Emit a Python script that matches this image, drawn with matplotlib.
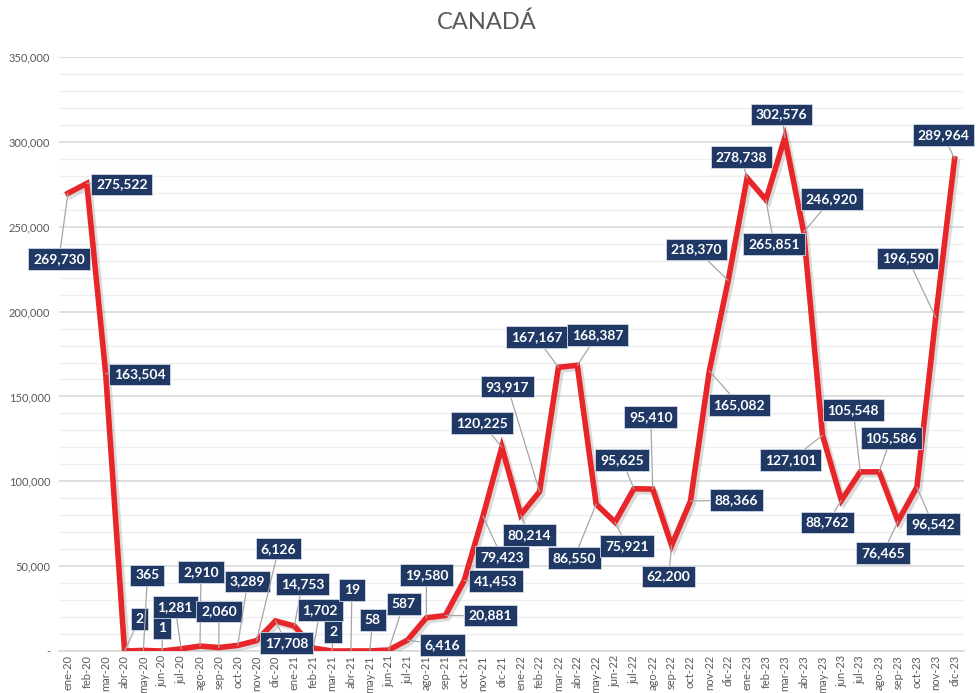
import matplotlib
matplotlib.use("Agg")
from matplotlib import pyplot as plt
from matplotlib import patheffects as pe
from matplotlib.ticker import FuncFormatter, MultipleLocator

# monthly values
months = ["ene", "feb", "mar", "abr", "may", "jun",
          "jul", "ago", "sep", "oct", "nov", "dic"]
years = ["20", "21", "22", "23"]
labels = [m + "-" + y for y in years for m in months]

values = [269730, 275522, 163504, 2, 365, 1, 1281, 2910, 2060, 3289, 6126, 17708,
          14753, 1702, 2, 19, 58, 587, 6416, 19580, 20881, 41453, 79423, 120225,
          80214, 93917, 167167, 168387, 86550, 75921, 95625, 95410, 62200, 88366, 165082, 218370,
          278738, 265851, 302576, 246920, 127101, 88762, 105548, 105586, 76465, 96542, 196590, 289964]

# label box offsets from the point, in pixels (x right, y up)
offsets = [(-9, -66), (35, -1), (34, -1), (15, 32), (4, 75), (0, 23), (-6, 42), (1, 74),
           (0, 36), (10, 64), (22, 92), (11, -22), (8, 42), (7, 38), (1, 19), (1, 61),
           (3, 31), (15, 46), (35, -5), (0, 43), (45, 0), (32, 0), (19, -41), (-20, 24),
           (9, -20), (-32, 105), (-22, 30), (20, 30), (-22, -54), (12, -24), (-12, 29), (-2, 72),
           (-3, -31), (46, 1), (30, -34), (-32, 31), (-6, 21), (8, -44), (-3, 23), (28, 33),
           (-32, -25), (-14, -22), (-7, 62), (12, 34), (-15, -32), (16, -37), (-28, 59), (-11, 24)]

plt.rcParams['font.family'] = ['Lato', 'DejaVu Sans']

fig = plt.figure(figsize=(9.77, 6.93), dpi=100)
ax = fig.add_axes([0.0599, 0.0606, 0.9268, 0.8571])

x = list(range(len(values)))
ax.plot(x, values, color="#E8262A", lw=4, solid_joinstyle="miter", zorder=3,
        path_effects=[pe.SimpleLineShadow(offset=(2, -2), shadow_color="#999999", alpha=0.35),
                      pe.Normal()])

for i, v in enumerate(values):
    dx, dy = offsets[i]
    ax.annotate(f"{v:,}", xy=(i, v), xytext=(dx, dy), textcoords="offset pixels",
                ha="center", va="center", color="white", fontsize=10, fontweight="bold",
                bbox=dict(boxstyle="square,pad=0.35", fc="#1F3864", ec="#D0D7E5", lw=0.6),
                arrowprops=dict(arrowstyle="-", color="#A6A6A6", lw=0.9, shrinkA=0, shrinkB=0),
                zorder=5)

ax.set_xlim(-0.5, len(values) - 0.5)
ax.set_ylim(0, 350000)
ax.set_xticks(x)
ax.set_xticklabels(labels, rotation=90, fontsize=8, color="#595959")
ax.yaxis.set_major_locator(MultipleLocator(50000))
ax.yaxis.set_minor_locator(MultipleLocator(10000))
ax.yaxis.set_major_formatter(FuncFormatter(lambda v, p: "-" if v == 0 else f"{int(v):,}"))
ax.tick_params(axis="y", labelsize=8, labelcolor="#595959", length=0, which="both", pad=6)
ax.tick_params(axis="x", length=0, pad=3)
ax.grid(axis="y", which="major", color="#D9D9D9", lw=1.2)
ax.grid(axis="y", which="minor", color="#EFEFEF", lw=1.0)
ax.set_axisbelow(True)
for s in ["top", "right", "left"]:
    ax.spines[s].set_visible(False)
ax.spines["bottom"].set_color("#D9D9D9")
ax.spines["bottom"].set_linewidth(1.2)

fig.text(0.4985, 0.968, "CANADÁ", ha="center", va="center", fontsize=17, color="#595959")

fig.savefig("out.png", dpi=100)
